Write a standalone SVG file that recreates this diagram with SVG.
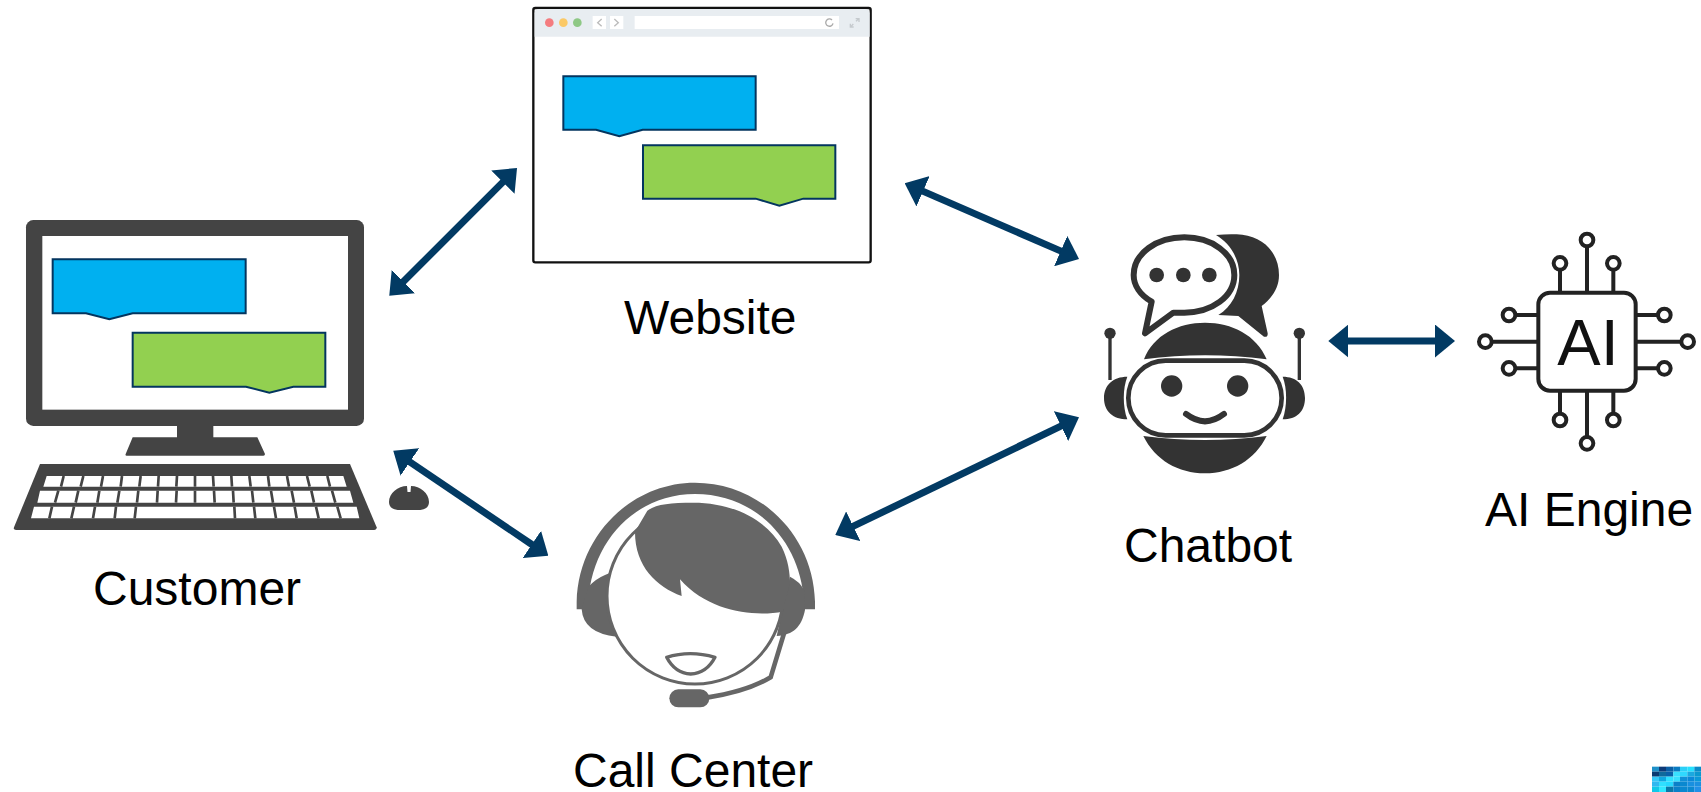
<svg xmlns="http://www.w3.org/2000/svg" width="1701" height="792" viewBox="0 0 1701 792">
<style>
text{font-family:"Liberation Sans",Arial,sans-serif;font-size:48px;fill:#000}
.blue{fill:#00b0f0;stroke:#03355f;stroke-width:6}
.green{fill:#92d050;stroke:#03355f;stroke-width:6}
.conn line{stroke:#023a63;stroke-width:7;marker-start:url(#ah);marker-end:url(#ah)}
.pin{fill:none;stroke:#222;stroke-width:12}
.bot{fill:#333}
.agent{fill:#666}
</style>
<defs>
<marker id="ah" markerUnits="userSpaceOnUse" viewBox="0 0 20 33" markerWidth="20" markerHeight="33" refX="1" refY="16.5" orient="auto-start-reverse"><path d="M0,0L20,16.5L0,33Z" fill="#023a63"/></marker>
</defs>
<rect width="1701" height="792" fill="#fff"/>

<g id="customer">
<g transform="translate(0,200) scale(.33333)">
<rect x="78" y="60" width="1014" height="618" rx="22" fill="#444"/>
<rect x="127" y="108" width="917" height="521" fill="#fff"/>
<path d="M531,670H640V712H772L795,762Q795,767 790,767H380Q375,767 377,762L398,712H531Z" fill="#444"/>
<path class="blue" d="M158,178H737V340H398L328,358L258,340H158Z"/>
<path class="green" d="M398,398H976V560H880L808,578L738,560H398Z"/>
<path d="M120,792H1050L1130,982Q1130,990 1122,990H48Q40,990 42,982Z" fill="#444"/>
<path d="M140,828H1030L1040,860H130ZM120,872H1050L1060,908H112ZM102,920H1070L1078,955H93Z" fill="#fff"/>
<path fill="none" stroke="#444" stroke-width="8" d="M191,828L183,860M250,828L242,860M309,828L303,860M366,828L362,860M422,828L418,860M476,828L474,860M531,828L529,860M585,828V860M639,828L641,860M694,828L696,860M748,828L752,860M804,828L808,860M861,828L867,860M921,828L929,860M982,828L990,860M175,872L165,908M235,872L227,908M298,872L292,908M358,872L352,908M415,872L411,908M473,872L471,908M530,872L528,908M585,872V908M642,872L644,908M699,872L701,908M756,872L760,908M813,872L819,908M875,872L882,908M934,872L942,908M996,872L1006,908M156,920L148,955M222,920L214,955M285,920L279,955M348,920L344,955M408,920L404,955M703,920L705,955M762,920L766,955M822,920L828,955M884,920L890,955M948,920L956,955M1012,920L1022,955"/>
</g>
<path d="M389,502C389,493 398,486 407,486L407.500,492H410.500L411,486C420,486 429,493 429,502C429,508 424,510 418,510H400C394,510 389,508 389,502Z" fill="#444"/>
<text x="93" y="605">Customer</text>
</g>

<g id="website">
<g transform="translate(520,0) scale(.33333)">
<rect x="40" y="24" width="1012" height="763" rx="6" fill="#fff" stroke="#111" stroke-width="7"/>
<path d="M44,110V40Q44,27 57,27H1035Q1049,27 1049,40V110Z" fill="#e8edf1"/>
<circle cx="88" cy="68" r="13" fill="#f47c7f"/><circle cx="130" cy="68" r="13" fill="#fbc966"/><circle cx="172" cy="68" r="13" fill="#8ec885"/>
<rect x="218" y="48" width="40" height="39" fill="#fff"/><rect x="270" y="48" width="40" height="39" fill="#fff"/>
<rect x="344" y="48" width="613" height="39" fill="#fff"/>
<path d="M245,57L233,68L245,79M283,57L295,68L283,79" fill="none" stroke="#bbb" stroke-width="4"/>
<path d="M936,60A11,11 0 1 0 939,70" fill="none" stroke="#aaa" stroke-width="4"/>
<path d="M1008,64L1016,56M1000,72L992,80M1007,56H1017V66M991,71V81H1001" fill="none" stroke="#c5cace" stroke-width="4"/>
<path class="blue" d="M130,229H707V389H368L298,409L228,389H130Z"/>
<path class="green" d="M369,436H946V596H850L778,617L707,596H369Z"/>
</g>
<text x="624" y="334">Website</text>
</g>

<g id="call-center">
<g transform="translate(560,470) scale(.33333)">
<path d="M50,418V395C55,195 215,38 405,38C600,38 760,195 765,395V418H732V395C722,215 590,72 405,72C225,72 95,215 85,395V418Z" fill="#666"/>
<path class="agent" d="M85,350Q110,325 135,315L170,300V500Q70,490 65,418Z"/>
<path class="agent" d="M690,320Q720,335 732,360L735,420C725,470 700,495 650,498Z"/>
<circle cx="405" cy="378" r="264" fill="#fff" stroke="#666" stroke-width="9"/>
<path class="agent" d="M225,185L262,122C290,102 330,98 400,98C520,98 620,150 665,230C685,270 690,310 690,340L668,425C590,440 450,430 360,328L365,378C290,350 225,290 225,185Z"/>
<path d="M320,562Q390,540 465,562Q440,610 392,612Q345,610 320,562Z" fill="#fff" stroke="#666" stroke-width="10" stroke-linejoin="round"/>
<path d="M672,490L632,622Q560,665 440,683" fill="none" stroke="#666" stroke-width="14"/>
<rect class="agent" x="328" y="658" width="120" height="54" rx="27"/>
</g>
<text x="573" y="787">Call Center</text>
</g>

<g id="chatbot">
<g transform="translate(1090,220) scale(.33333)">
<path class="bot" d="M378,45C400,43 420,42 440,43C515,45 567,95 567,165C567,205 545,235 515,258L533,340Q534,352 522,350L445,288L385,285C425,262 448,215 448,165C448,115 420,70 378,45Z"/>
<path d="M250,278L165,340L185,245C150,225 131,195 131,165C131,100 200,52 283,52C365,52 433,100 433,165C433,230 365,278 283,278Z" fill="#fff" stroke="#333" stroke-width="18" stroke-linejoin="round"/>
<circle class="bot" cx="200" cy="165" r="22"/><circle class="bot" cx="280" cy="165" r="22"/><circle class="bot" cx="358" cy="165" r="22"/>
<path class="bot" d="M162,418C190,345 265,308 345,308C425,308 500,345 530,418Q345,394 162,418Z"/>
<path class="bot" d="M160,648Q345,672 530,648C495,720 425,760 345,760C265,760 195,720 160,648Z"/>
<rect x="115" y="422" width="460" height="224" rx="112" fill="#fff" stroke="#333" stroke-width="14"/>
<circle class="bot" cx="245" cy="498" r="32"/><circle class="bot" cx="443" cy="498" r="32"/>
<path d="M288,582Q345,626 402,582" fill="none" stroke="#333" stroke-width="18" stroke-linecap="round"/>
<path class="bot" d="M112,470C70,470 42,495 42,534C42,575 70,598 112,598C98,560 98,505 112,470Z"/>
<path class="bot" d="M578,470C620,470 645,495 645,534C645,575 620,598 578,598C592,560 592,505 578,470Z"/>
<path d="M60,340V480M628,340V480" stroke="#333" stroke-width="10"/>
<circle class="bot" cx="60" cy="340" r="17"/><circle class="bot" cx="628" cy="340" r="17"/>
</g>
<text x="1124" y="562">Chatbot</text>
</g>

<g id="ai-engine">
<g transform="translate(1460,220) scale(.33333)">
<path class="pin" d="M381,78V218M300,148V218M460,148V218M381,512V652M300,512V582M460,512V582M94,365H235M165,285H235M165,445H235M527,365H665M527,285H595M527,445H595"/>
<circle class="pin" cx="381" cy="60" r="19"/><circle class="pin" cx="300" cy="130" r="19"/><circle class="pin" cx="460" cy="130" r="19"/>
<circle class="pin" cx="381" cy="670" r="19"/><circle class="pin" cx="300" cy="600" r="19"/><circle class="pin" cx="460" cy="600" r="19"/>
<circle class="pin" cx="76" cy="365" r="19"/><circle class="pin" cx="147" cy="285" r="19"/><circle class="pin" cx="147" cy="445" r="19"/>
<circle class="pin" cx="683" cy="365" r="19"/><circle class="pin" cx="613" cy="285" r="19"/><circle class="pin" cx="613" cy="445" r="19"/>
<rect x="235" y="218" width="292" height="294" rx="35" fill="#fff" stroke="#222" stroke-width="12"/>
</g>
<text x="1588" y="365" text-anchor="middle" style="font-size:65px;fill:#111">AI</text>
<text x="1485" y="526">AI Engine</text>
</g>

<g id="connectors" class="conn">
<line x1="402.700" y1="282.300" x2="503.600" y2="181.400"/>
<line x1="409" y1="461.400" x2="532.600" y2="545"/>
<line x1="922.100" y1="190.900" x2="1061.600" y2="251.400"/>
<line x1="852.400" y1="526.700" x2="1061.900" y2="425.600"/>
<line x1="1347.300" y1="341" x2="1436" y2="341"/>
</g>

<g id="corner-mark" transform="translate(1640,750) scale(.33333)">
<rect x="36" y="50" width="21" height="15" fill="#1e90c8"/><rect x="57" y="50" width="21" height="15" fill="#0d3a78"/><rect x="78" y="50" width="22" height="15" fill="#0a5fa5"/><rect x="100" y="50" width="20" height="15" fill="#0a7ac0"/><rect x="120" y="50" width="22" height="15" fill="#2cd0f8"/><rect x="142" y="50" width="21" height="15" fill="#25e0ff"/><rect x="163" y="50" width="20" height="15" fill="#0a8ac8"/>
<rect x="36" y="65" width="21" height="15" fill="#0b3a72"/><rect x="57" y="65" width="21" height="15" fill="#0f6a9c"/><rect x="78" y="65" width="22" height="15" fill="#0a60a8"/><rect x="100" y="65" width="20" height="15" fill="#38e0ff"/><rect x="120" y="65" width="22" height="15" fill="#30d8ff"/><rect x="142" y="65" width="21" height="15" fill="#1aa8e0"/><rect x="163" y="65" width="20" height="15" fill="#0a98d0"/>
<rect x="36" y="80" width="21" height="15" fill="#35c8f8"/><rect x="57" y="80" width="21" height="15" fill="#10a8e0"/><rect x="78" y="80" width="22" height="15" fill="#30e0ff"/><rect x="100" y="80" width="20" height="15" fill="#38e0ff"/><rect x="120" y="80" width="22" height="15" fill="#1090d8"/><rect x="142" y="80" width="21" height="15" fill="#0a88d8"/><rect x="163" y="80" width="20" height="15" fill="#0a98d8"/>
<rect x="36" y="95" width="21" height="15" fill="#30b8f0"/><rect x="57" y="95" width="21" height="15" fill="#30e0ff"/><rect x="78" y="95" width="22" height="15" fill="#25d8ff"/><rect x="100" y="95" width="20" height="15" fill="#0a80c8"/><rect x="120" y="95" width="22" height="15" fill="#0a88d0"/><rect x="142" y="95" width="21" height="15" fill="#1890e0"/><rect x="163" y="95" width="20" height="15" fill="#1a90e0"/>
<rect x="36" y="110" width="21" height="16" fill="#10c8e8"/><rect x="57" y="110" width="21" height="16" fill="#30e8ff"/><rect x="78" y="110" width="22" height="16" fill="#0a78a8"/><rect x="100" y="110" width="20" height="16" fill="#0a80c8"/><rect x="120" y="110" width="22" height="16" fill="#0a88d0"/><rect x="142" y="110" width="21" height="16" fill="#0a88d0"/><rect x="163" y="110" width="20" height="16" fill="#2090e8"/>
</g>
</svg>
